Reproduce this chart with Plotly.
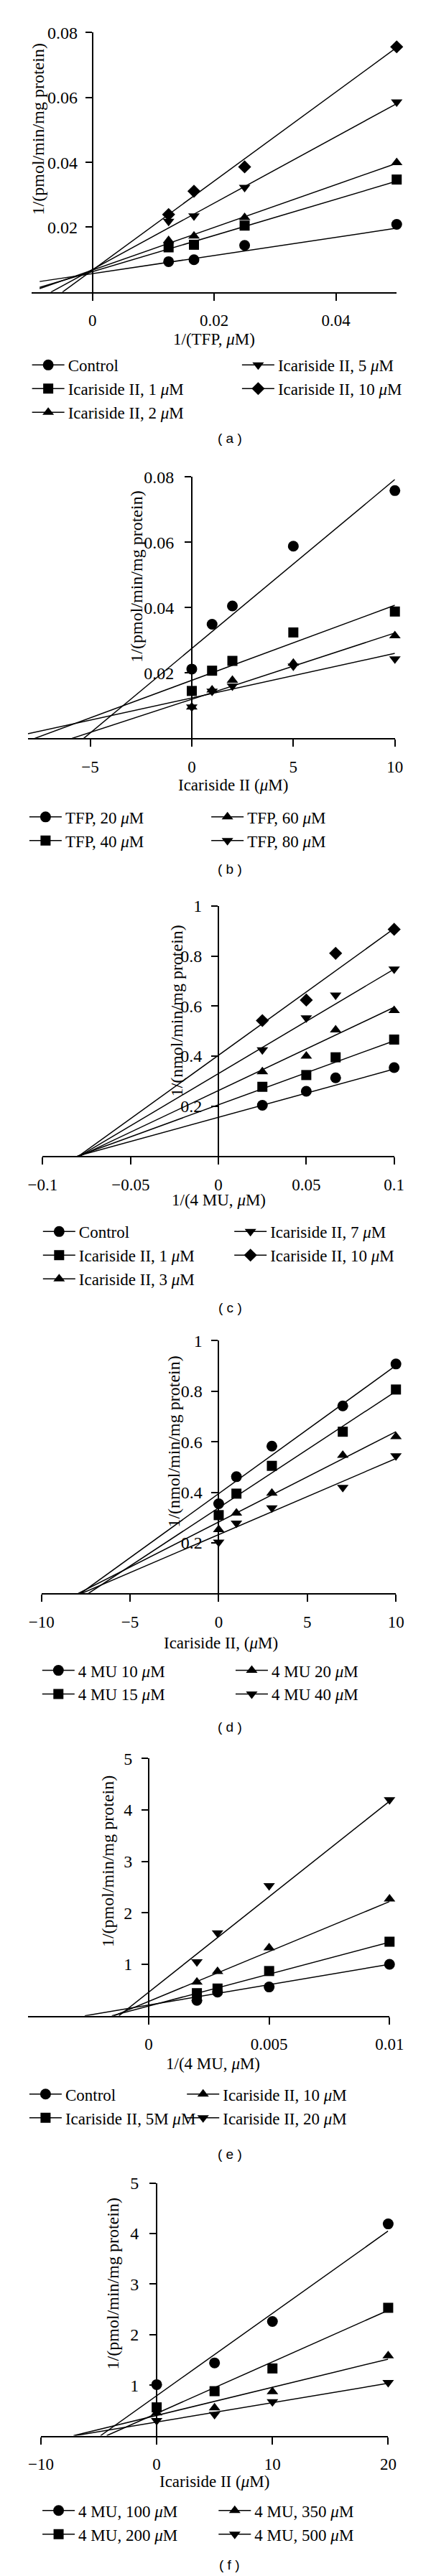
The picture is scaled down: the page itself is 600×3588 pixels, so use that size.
import plotly.graph_objects as go

FIG_W, FIG_H = 600, 3588
SERIF = "Liberation Serif"
SANS = "Liberation Sans"
MU = "<i>\u03bc</i>M"

# ---------------- data ----------------
# (a) 1/v vs 1/[TFP]
a_x = [0.0125, 0.01667, 0.025, 0.05]
a_control = [0.0094, 0.0100, 0.0144, 0.0209]
a_ic1 = [0.0138, 0.0146, 0.0205, 0.0347]
a_ic2 = [0.0159, 0.0173, 0.0230, 0.0399]
a_ic5 = [0.0218, 0.0235, 0.0323, 0.0586]
a_ic10 = [0.0239, 0.0311, 0.0386, 0.0756]
a_names = ["Control", "Icariside II, 1 " + MU, "Icariside II, 2 " + MU,
           "Icariside II, 5 " + MU, "Icariside II, 10 " + MU]
a_fit_icpt = [0.0057, 0.0063, 0.0068, 0.0070, 0.0068]
a_fit_slope = [0.28, 0.558, 0.658, 1.022, 1.372]
a_xticks = [0, 0.02, 0.04]
a_xticktext = ["0", "0.02", "0.04"]
a_yticks = [0.02, 0.04, 0.06, 0.08]
a_yticktext = ["0.02", "0.04", "0.06", "0.08"]

# (b) Dixon plot, TFP
b_x = [0, 1, 2, 5, 10]
b_tfp20 = [0.0212, 0.0349, 0.0405, 0.0588, 0.0758]
b_tfp40 = [0.0145, 0.0207, 0.0237, 0.0324, 0.0388]
b_tfp60 = [0.0096, 0.0148, 0.0178, 0.0230, 0.0314]
b_tfp80 = [0.0096, 0.0144, 0.0160, 0.0221, 0.0243]
b_names = ["TFP, 20 " + MU, "TFP, 40 " + MU, "TFP, 60 " + MU, "TFP, 80 " + MU]
b_fit_icpt = [0.0275, 0.01775, 0.01196, 0.01238]
b_fit_slope = [0.00517, 0.002297, 0.002028, 0.001361]
b_xticks = [-5, 0, 5, 10]
b_xticktext = ["\u22125", "0", "5", "10"]
b_yticks = [0.02, 0.04, 0.06, 0.08]
b_yticktext = ["0.02", "0.04", "0.06", "0.08"]

# (c) 1/v vs 1/[4 MU]
c_x = [0.025, 0.05, 0.0667, 0.1]
c_control = [0.203, 0.259, 0.313, 0.354]
c_ic1 = [0.277, 0.324, 0.395, 0.466]
c_ic3 = [0.337, 0.400, 0.505, 0.582]
c_ic7 = [0.425, 0.553, 0.644, 0.748]
c_ic10 = [0.542, 0.624, 0.811, 0.907]
c_names = ["Control", "Icariside II, 1 " + MU, "Icariside II, 3 " + MU,
           "Icariside II, 7 " + MU, "Icariside II, 10 " + MU]
c_fit_icpt = [0.155, 0.205, 0.262, 0.330, 0.403]
c_fit_slope = [1.93, 2.56, 3.33, 4.18, 5.07]
c_xticks = [-0.1, -0.05, 0, 0.05, 0.1]
c_xticktext = ["\u22120.1", "\u22120.05", "0", "0.05", "0.1"]
c_yticks = [0.2, 0.4, 0.6, 0.8, 1]
c_yticktext = ["0.2", "0.4", "0.6", "0.8", "1"]

# (d) Dixon plot, 4 MU
d_x = [0, 1, 3, 7, 10]
d_mu10 = [0.355, 0.462, 0.583, 0.742, 0.908]
d_mu15 = [0.310, 0.395, 0.505, 0.640, 0.807]
d_mu20 = [0.253, 0.318, 0.397, 0.547, 0.621]
d_mu40 = [0.203, 0.278, 0.339, 0.420, 0.545]
d_names = ["4 MU 10 " + MU, "4 MU 15 " + MU, "4 MU 20 " + MU, "4 MU 40 " + MU]
d_fit_icpt = [0.395, 0.339, 0.283, 0.233]
d_fit_slope = [0.0507, 0.0461, 0.0357, 0.0301]
d_xticks = [-10, -5, 0, 5, 10]
d_xticktext = ["\u221210", "\u22125", "0", "5", "10"]
d_yticks = [0.2, 0.4, 0.6, 0.8, 1]
d_yticktext = ["0.2", "0.4", "0.6", "0.8", "1"]

# (e) 1/v vs 1/[4 MU]
e_x = [0.002, 0.002857, 0.005, 0.01]
e_control = [0.30, 0.46, 0.56, 1.00]
e_ic5 = [0.44, 0.53, 0.87, 1.44]
e_ic10 = [0.655, 0.86, 1.32, 2.27]
e_ic20 = [1.05, 1.61, 2.53, 4.20]
e_names = ["Control", "Icariside II, 5M " + MU, "Icariside II, 10 " + MU,
           "Icariside II, 20 " + MU]
e_fit_icpt = [0.21, 0.19, 0.28, 0.46]
e_fit_slope = [79.0, 124.0, 194.0, 371.0]
e_xticks = [0, 0.005, 0.01]
e_xticktext = ["0", "0.005", "0.01"]
e_yticks = [1, 2, 3, 4, 5]
e_yticktext = ["1", "2", "3", "4", "5"]

# (f) Dixon plot, 4 MU
f_x = [0, 5, 10, 20]
f_mu100 = [1.01, 1.44, 2.26, 4.19]
f_mu200 = [0.56, 0.88, 1.33, 2.53]
f_mu350 = [0.45, 0.55, 0.87, 1.58]
f_mu500 = [0.30, 0.42, 0.67, 1.05]
f_names = ["4 MU, 100 " + MU, "4 MU, 200 " + MU, "4 MU, 350 " + MU,
           "4 MU, 500 " + MU]
f_fit_icpt = [0.79, 0.44, 0.40, 0.27]
f_fit_slope = [0.163, 0.102, 0.0557, 0.0383]
f_xticks = [-10, 0, 10, 20]
f_xticktext = ["\u221210", "0", "10", "20"]
f_yticks = [1, 2, 3, 4, 5]
f_yticktext = ["1", "2", "3", "4", "5"]

x_titles = ["1/(TFP, " + MU + ")", "Icariside II (" + MU + ")",
            "1/(4 MU, " + MU + ")", "Icariside II, (" + MU + ")",
            "1/(4 MU, " + MU + ")", "Icariside II (" + MU + ")"]
y_titles = ["1/(pmol/min/mg protein)", "1/(pmol/min/mg protein)",
            "1/(nmol/min/mg protein)", "1/(nmol/min/mg protein)",
            "1/(pmol/min/mg protein)", "1/(pmol/min/mg protein)"]
captions = ["( a )", "( b )", "( c )", "( d )", "( e )", "( f )"]

# ---------------- layout geometry (pixels) ----------------
panels = [
    dict(x=a_x, ys=[a_control, a_ic1, a_ic2, a_ic5, a_ic10], names=a_names,
         icpt=a_fit_icpt, slope=a_fit_slope, xr=(-0.01, 0.05), yr=(0, 0.08), clip=-0.0087,
         xt=(a_xticks, a_xticktext), yt=(a_yticks, a_yticktext), ystand=6,
         xpx=(24.9, 570.2), ypx=(32.5, 395.3), xtitle=(297, 461), ytitle=(34.4, 168),
         split=3, leg=((25, 495.6), (338.7, 495.6)), cap=(321, 600)),
    dict(x=b_x, ys=[b_tfp20, b_tfp40, b_tfp60, b_tfp80], names=b_names,
         icpt=b_fit_icpt, slope=b_fit_slope, xr=(-8.07, 10), yr=(0, 0.08), clip=-8.07,
         xt=(b_xticks, b_xticktext), yt=(b_yticks, b_yticktext), ystand=10,
         xpx=(19.1, 567.5), ypx=(653.6, 1019.1), xtitle=(326, 1084), ytitle=(182, 793),
         split=2, leg=((21, 1127.4), (292.8, 1127.4)), cap=(321, 1202)),
    dict(x=c_x, ys=[c_control, c_ic1, c_ic3, c_ic7, c_ic10], names=c_names,
         icpt=c_fit_icpt, slope=c_fit_slope, xr=(-0.1, 0.1), yr=(0, 1), clip=-0.1,
         xt=(c_xticks, c_xticktext), yt=(c_yticks, c_yticktext), ystand=8,
         xpx=(41.3, 566.4), ypx=(1253.6, 1603), xtitle=(304, 1665), ytitle=(241, 1400),
         split=3, leg=((41.3, 1707), (327.2, 1707)), cap=(321, 1815)),
    dict(x=d_x, ys=[d_mu10, d_mu15, d_mu20, d_mu40], names=d_names,
         icpt=d_fit_icpt, slope=d_fit_slope, xr=(-10, 10), yr=(0, 1), clip=-10,
         xt=(d_xticks, d_xticktext), yt=(d_yticks, d_yticktext), ystand=8,
         xpx=(39.4, 569.1), ypx=(1861.2, 2214.5), xtitle=(307.7, 2284), ytitle=(237, 2002),
         split=2, leg=((40.2, 2320.5), (329.1, 2320.5)), cap=(321, 2401)),
    dict(x=e_x, ys=[e_control, e_ic5, e_ic10, e_ic20], names=e_names,
         icpt=e_fit_icpt, slope=e_fit_slope, xr=(-0.00502, 0.01), yr=(0, 5), clip=-0.00502,
         xt=(e_xticks, e_xticktext), yt=(e_yticks, e_yticktext), ystand=8,
         xpx=(19.1, 559.5), ypx=(2445.2, 2804.9), xtitle=(295.5, 2871.5), ytitle=(138.5, 2589.4),
         split=2, leg=((21, 2912.8), (256.4, 2912.8)), cap=(321, 2998)),
    dict(x=f_x, ys=[f_mu100, f_mu200, f_mu350, f_mu500], names=f_names,
         icpt=f_fit_icpt, slope=f_fit_slope, xr=(-10, 20), yr=(0, 5), clip=-10,
         xt=(f_xticks, f_xticktext), yt=(f_yticks, f_yticktext), ystand=10,
         xpx=(38.6, 557.5), ypx=(3038.6, 3391.8), xtitle=(298, 3455.6), ytitle=(147, 3179),
         split=2, leg=((40.5, 3494.9), (303.7, 3494.9)), cap=(320, 3572)),
]

symbols = ["circle", "square", "triangle-up", "triangle-down", "diamond"]
msizes = {"circle": 15, "square": 14, "triangle-up": 14, "triangle-down": 14, "diamond": 14}

fig = go.Figure()
layout = dict(width=FIG_W, height=FIG_H, margin=dict(l=0, r=0, t=0, b=0),
              paper_bgcolor="white", plot_bgcolor="white",
              font=dict(family=SERIF, size=23, color="black"), showlegend=True)
annotations = []

for i, p in enumerate(panels):
    n = i + 1
    xa = "x" if n == 1 else f"x{n}"
    ya = "y" if n == 1 else f"y{n}"
    xkey = "xaxis" if n == 1 else f"xaxis{n}"
    ykey = "yaxis" if n == 1 else f"yaxis{n}"
    x0d, x1d = p["xpx"][0] / FIG_W, p["xpx"][1] / FIG_W
    yb, yt = 1 - p["ypx"][1] / FIG_H, 1 - p["ypx"][0] / FIG_H
    xmin, xmax = p["xr"]
    ypos = x0d + (0 - xmin) / (xmax - xmin) * (x1d - x0d)
    layout[xkey] = dict(domain=[x0d, x1d], range=[xmin, xmax], anchor=ya,
                        showline=True, linecolor="black", linewidth=2,
                        ticks="outside", ticklen=10, tickwidth=2, tickcolor="black",
                        tickvals=p["xt"][0], ticktext=p["xt"][1], ticklabelstandoff=8,
                        showgrid=False, zeroline=False,
                        tickfont=dict(family=SERIF, size=23, color="black"))
    layout[ykey] = dict(domain=[yb, yt], range=list(p["yr"]), anchor="free", position=ypos,
                        showline=True, linecolor="black", linewidth=2,
                        ticks="outside", ticklen=9, tickwidth=2, tickcolor="black",
                        tickvals=p["yt"][0], ticktext=p["yt"][1], ticklabelstandoff=p["ystand"],
                        showgrid=False, zeroline=False,
                        tickfont=dict(family=SERIF, size=24, color="black"))

    lg1 = "legend" if n == 1 else f"legend{2 * n - 1}"
    lg2 = f"legend{2 * n}"
    for j, (ys, name) in enumerate(zip(p["ys"], p["names"])):
        sym = symbols[j]
        b0, m = p["icpt"][j], p["slope"][j]
        xs = max(-b0 / m, p["clip"])
        xe = p["x"][-1]
        fig.add_trace(go.Scatter(x=[xs, xe], y=[b0 + m * xs, b0 + m * xe], mode="lines",
                                 line=dict(color="black", width=1.5), showlegend=False,
                                 hoverinfo="skip", xaxis=xa, yaxis=ya))
        fig.add_trace(go.Scatter(x=p["x"], y=ys, mode="markers", cliponaxis=False,
                                 marker=dict(symbol=sym, size=msizes[sym], color="black",
                                             line=dict(width=0)),
                                 showlegend=False, name=name, xaxis=xa, yaxis=ya))
        fig.add_trace(go.Scatter(x=[None], y=[None], mode="lines+markers", name=name,
                                 legend=lg1 if j < p["split"] else lg2,
                                 line=dict(color="black", width=1.5),
                                 marker=dict(symbol=sym, size=msizes[sym], color="black"),
                                 xaxis=xa, yaxis=ya))
    for k, lg in enumerate([lg1, lg2]):
        lx, ly = p["leg"][k]
        layout[lg] = dict(x=(lx - 5) / FIG_W, y=1 - (ly - 20) / FIG_H, xanchor="left",
                          yanchor="top", bgcolor="rgba(0,0,0,0)", borderwidth=0,
                          itemwidth=45, tracegroupgap=0,
                          font=dict(family=SERIF, size=23, color="black"))

    annotations.append(dict(text=x_titles[i], x=p["xtitle"][0] / FIG_W, y=1 - p["xtitle"][1] / FIG_H,
                            xref="paper", yref="paper", xanchor="center", yanchor="middle",
                            showarrow=False, font=dict(family=SERIF, size=23, color="black")))
    annotations.append(dict(text=y_titles[i], x=p["ytitle"][0] / FIG_W, y=1 - p["ytitle"][1] / FIG_H,
                            xref="paper", yref="paper", xanchor="center", yanchor="middle",
                            textangle=-90, showarrow=False,
                            font=dict(family=SERIF, size=24, color="black")))
    annotations.append(dict(text=captions[i], x=p["cap"][0] / FIG_W, y=1 - p["cap"][1] / FIG_H,
                            xref="paper", yref="paper", xanchor="center", yanchor="middle",
                            showarrow=False, font=dict(family=SANS, size=19, color="black")))

layout["annotations"] = annotations
fig.update_layout(**layout)
fig.write_html("out.html", config={"displayModeBar": False},
               post_script="document.body.style.margin='0';document.body.style.padding='0';")
